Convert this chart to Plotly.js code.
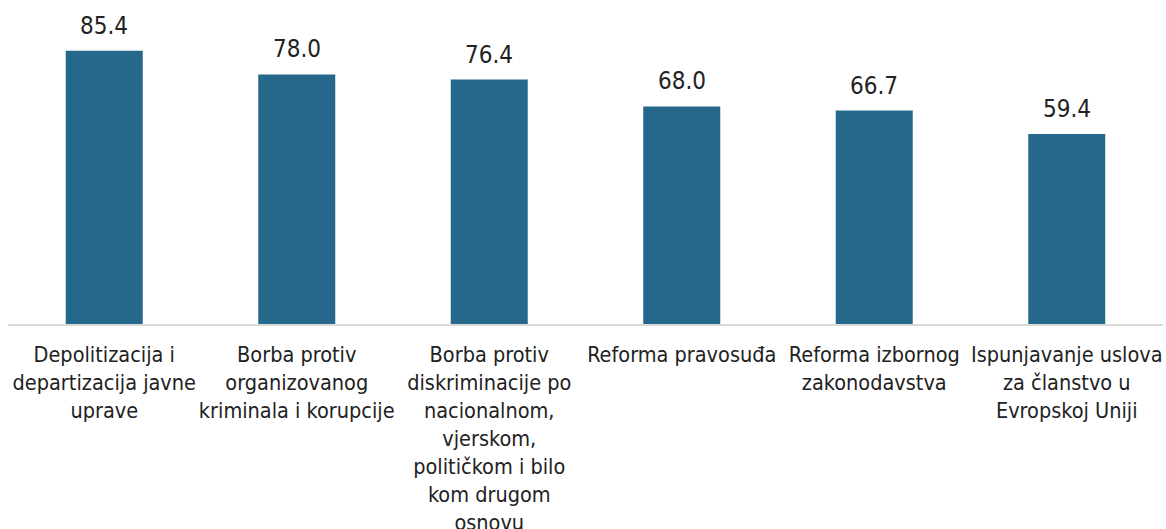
<!DOCTYPE html>
<html>
<head>
<meta charset="utf-8">
<script src="https://cdn.plot.ly/plotly-3.0.1.min.js"></script>
<style>html,body{margin:0;padding:0;background:#fff;}#chart{width:1166px;height:529px;}</style>
</head>
<body>
<div id="chart"></div>
<script>
var categories = [
  "Depolitizacija i<br>departizacija javne<br>uprave",
  "Borba protiv<br>organizovanog<br>kriminala i korupcije",
  "Borba protiv<br>diskriminacije po<br>nacionalnom,<br>vjerskom,<br>političkom i bilo<br>kom drugom<br>osnovu",
  "Reforma pravosuđa",
  "Reforma izbornog<br>zakonodavstva",
  "Ispunjavanje uslova<br>za članstvo u<br>Evropskoj Uniji"
];
var values = [85.4, 78.0, 76.4, 68.0, 66.7, 59.4];
var valueLabels = ["85.4", "78.0", "76.4", "68.0", "66.7", "59.4"];

var FONT = "'Liberation Sans Narrow', 'DejaVu Sans Condensed', Roboto, sans-serif";

var trace = {
  type: 'bar',
  x: categories,
  y: values,
  marker: {color: '#26688b', line: {width: 0}},
  hoverinfo: 'none'
};

var annotations = categories.map(function (c, i) {
  return {
    x: c, y: values[i], xref: 'x', yref: 'y',
    text: valueLabels[i], showarrow: false,
    yanchor: 'bottom', yshift: 9,
    font: {family: FONT, size: 24, color: '#222222'}
  };
});

var layout = {
  width: 1166, height: 529,
  margin: {l: 8, r: 3, t: 4, b: 204.5},
  paper_bgcolor: '#ffffff', plot_bgcolor: '#ffffff',
  bargap: 0.6,
  showlegend: false,
  xaxis: {
    showline: true, linecolor: '#d9d9d9', linewidth: 2,
    showgrid: false, zeroline: false, ticks: '',
    tickangle: 0,
    ticklabelstandoff: 10,
    tickfont: {family: FONT, size: 21.5, color: '#222222'},
    automargin: false
  },
  yaxis: {
    range: [0, 100], visible: false, showgrid: false, zeroline: false
  },
  annotations: annotations
};

Plotly.newPlot('chart', [trace], layout, {displayModeBar: false, staticPlot: true});
</script>
</body>
</html>
